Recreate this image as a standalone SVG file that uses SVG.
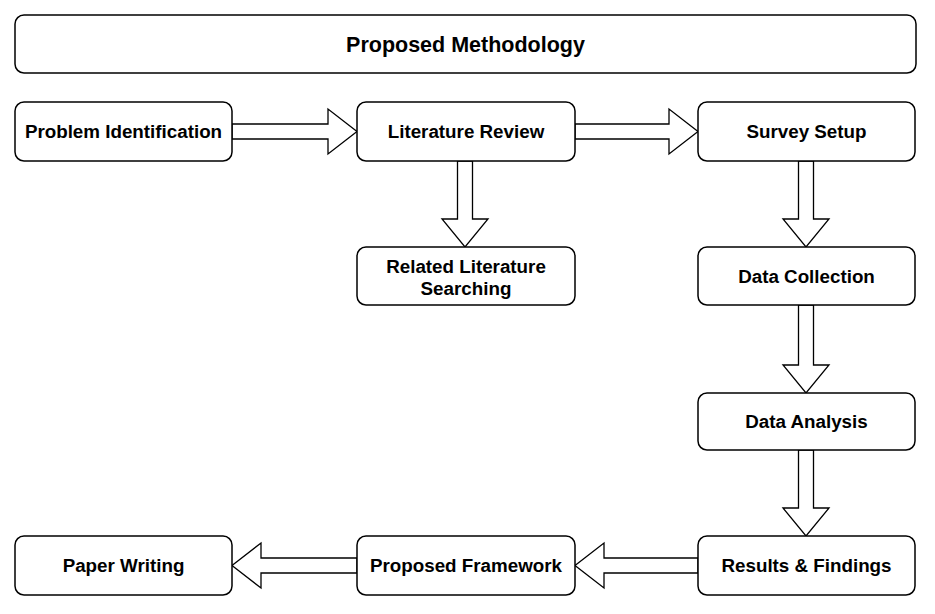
<svg xmlns="http://www.w3.org/2000/svg" width="935" height="614" viewBox="0 0 935 614">
<style>
.box{fill:#fff;stroke:#000;stroke-width:1.5}
.arr{fill:#fff;stroke:#000;stroke-width:1.3;stroke-linejoin:miter}
.lbl{font-family:"Liberation Sans",Arial,sans-serif;font-weight:bold;font-size:18.8px;fill:#000;text-anchor:middle}
.ttl{font-family:"Liberation Sans",Arial,sans-serif;font-weight:bold;font-size:21.5px;fill:#000;text-anchor:middle}
</style>
<rect width="935" height="614" fill="#fff"/>
<g id="connectors">
<polygon class="arr" points="232,124 328,124 328,109 357,131.5 328,154 328,139 232,139"/>
<polygon class="arr" points="575,124 669,124 669,109 698,131.5 669,154 669,139 575,139"/>
<polygon class="arr" points="457.5,161 457.5,219 442,219 465,247 488,219 472.5,219 472.5,161"/>
<polygon class="arr" points="798.5,161 798.5,219 783,219 806,247 829,219 813.5,219 813.5,161"/>
<polygon class="arr" points="798.5,305 798.5,365 783,365 806,393 829,365 813.5,365 813.5,305"/>
<polygon class="arr" points="798.5,450 798.5,508 783,508 806,536 829,508 813.5,508 813.5,450"/>
<polygon class="arr" points="698,558 604,558 604,543 575,565.5 604,588 604,573 698,573"/>
<polygon class="arr" points="357,558 261,558 261,543 232,565.5 261,588 261,573 357,573"/>
</g>
<g id="title"><rect class="box" x="15" y="15" width="901" height="58" rx="9"/><text class="ttl" x="465.5" y="51.5">Proposed Methodology</text></g>
<g id="problem-identification"><rect class="box" x="15" y="102" width="217" height="59" rx="9"/><text class="lbl" x="123.5" y="138">Problem Identification</text></g>
<g id="literature-review"><rect class="box" x="357" y="102" width="218" height="59" rx="9"/><text class="lbl" x="466" y="138">Literature Review</text></g>
<g id="survey-setup"><rect class="box" x="698" y="102" width="217" height="59" rx="9"/><text class="lbl" x="806.5" y="138">Survey Setup</text></g>
<g id="related-literature"><rect class="box" x="357" y="247" width="218" height="58" rx="9"/><text class="lbl" x="466" y="272.5">Related Literature</text><text class="lbl" x="466" y="294.5">Searching</text></g>
<g id="data-collection"><rect class="box" x="698" y="247" width="217" height="58" rx="9"/><text class="lbl" x="806.5" y="282.5">Data Collection</text></g>
<g id="data-analysis"><rect class="box" x="698" y="393" width="217" height="57" rx="9"/><text class="lbl" x="806.5" y="428">Data Analysis</text></g>
<g id="results-findings"><rect class="box" x="698" y="536" width="217" height="59" rx="9"/><text class="lbl" x="806.5" y="572">Results &amp; Findings</text></g>
<g id="proposed-framework"><rect class="box" x="357" y="536" width="218" height="59" rx="9"/><text class="lbl" x="466" y="572">Proposed Framework</text></g>
<g id="paper-writing"><rect class="box" x="15" y="536" width="217" height="59" rx="9"/><text class="lbl" x="123.5" y="572">Paper Writing</text></g>
</svg>
